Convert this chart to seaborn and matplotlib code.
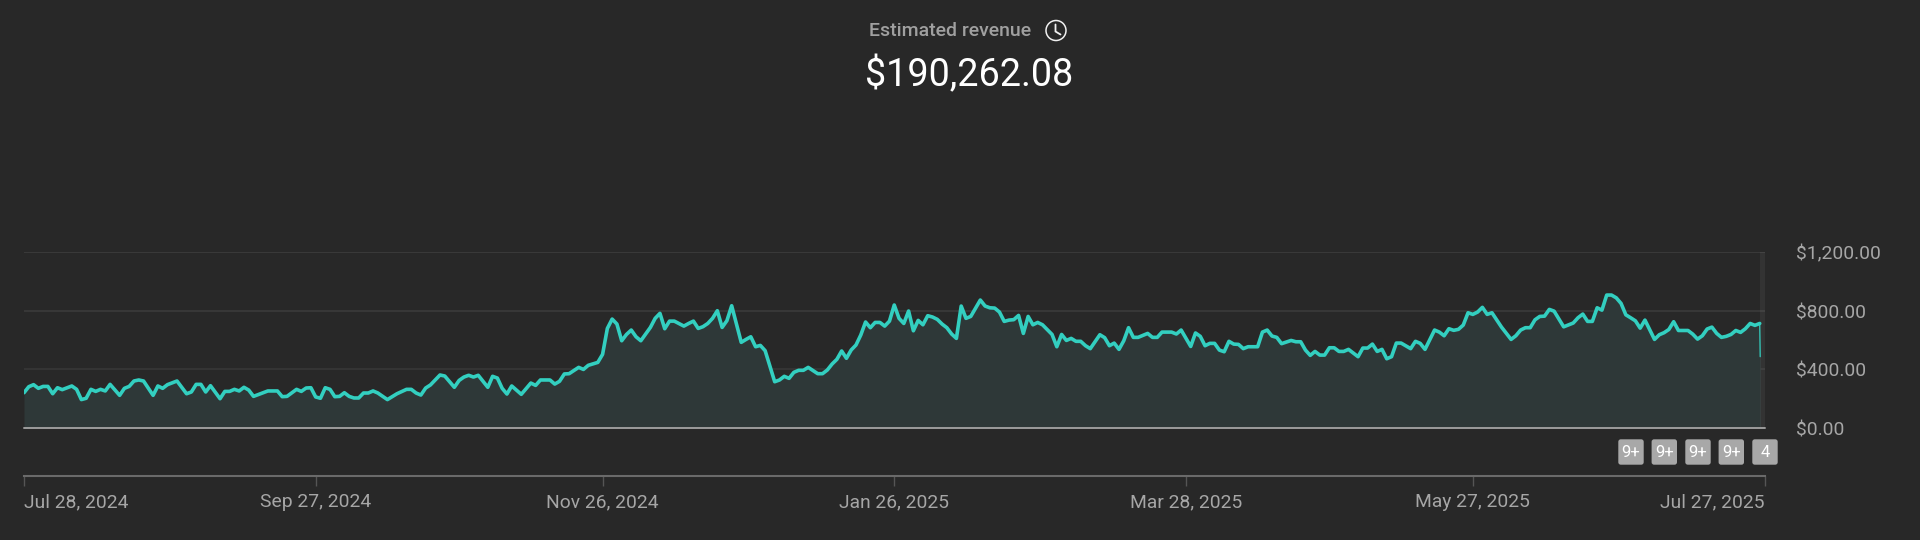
import matplotlib
matplotlib.use("Agg")
import matplotlib.pyplot as plt
from matplotlib.patches import Circle, FancyBboxPatch
from matplotlib.transforms import ScaledTranslation
import seaborn as sns

# Days since Jul 28, 2024 and daily estimated revenue in dollars
days = [0,1,2,3,4,5,6,7,8,10,11,12,13,14,15,16,17,18,20,21,22,23,24,25,27,28,29,30,32,34,35,36,37,38,39,41,42,43,44,45,46,47,48,51,
        53,54,55,57,58,59,60,61,62,63,64,65,66,67,68,69,70,71,72,73,74,76,78,80,81,82,83,84,85,87,88,90,91,92,93,94,95,97,98,99,100,101,102,
        104,106,107,108,110,111,112,113,114,116,117,118,120,121,122,123,124,125,126,127,128,129,131,132,133,134,135,136,138,139,140,141,142,143,144,145,146,147,148,150,151,152,153,154,155,
        157,158,159,160,161,162,163,164,166,167,168,169,170,171,172,173,174,175,176,177,178,179,180,181,182,183,184,185,186,187,188,189,190,191,192,193,194,195,196,197,198,200,201,202,203,204,205,206,207,208,
        209,210,211,212,213,215,216,217,218,219,220,221,222,223,225,226,227,228,229,230,231,232,233,235,236,237,238,240,241,242,244,245,246,247,248,249,250,251,252,253,254,255,256,258,259,260,
        261,262,263,265,266,267,268,269,270,271,272,273,274,275,276,277,279,280,281,282,283,284,285,286,287,288,290,291,292,293,295,296,297,298,299,300,301,302,303,304,305,306,307,309,311,312,
        313,314,315,316,317,318,319,320,322,324,325,326,327,328,329,330,331,332,333,334,335,336,337,338,339,341,342,343,344,345,346,347,348,349,350,351,352,353,354,355,356,357,358,359,360,361,362,363,363.1]
revenue = [241,282,296,271,284,284,234,275,262,287,264,194,203,264,250,264,253,298,223,271,284,321,328,321,223,287,271,296,321,234,246,298,298,246,289,200,250,250,264,253,278,259,216,253,
           253,214,216,264,250,273,275,212,203,275,264,214,216,241,216,205,205,239,239,253,239,194,234,264,264,239,225,273,294,362,355,278,325,348,360,348,360,278,353,341,271,232,287,
           230,307,291,328,328,300,319,369,371,414,400,428,448,503,680,744,710,596,639,669,623,596,687,749,783,678,730,730,696,714,730,680,692,714,749,801,687,733,835,585,605,623,555,564,528,
           316,328,353,339,380,394,394,414,371,371,396,437,469,526,476,533,567,635,724,685,721,721,696,730,840,749,714,799,664,735,705,767,758,742,710,685,642,612,833,749,762,874,833,821,819,792,728,737,740,769,
           646,762,705,721,705,639,555,639,598,612,592,592,562,542,637,617,562,580,537,596,685,619,619,646,619,619,655,655,642,669,557,649,626,562,578,578,532,521,592,573,571,542,555,555,655,669,
           628,619,576,598,589,589,532,496,523,498,498,548,548,523,523,537,487,546,546,573,523,537,473,487,580,580,542,592,578,537,669,655,630,678,667,674,703,787,776,792,824,776,787,689,605,630,
           669,685,685,739,762,764,810,798,691,717,753,778,728,728,821,805,908,908,889,851,773,753,732,682,737,605,637,651,673,726,666,666,666,641,607,630,676,689,646,619,626,639,666,653,678,714,701,714,487]

tick_days = [0, 61, 121, 182, 243, 303, 364]
tick_labels = ["Jul 28, 2024", "Sep 27, 2024", "Nov 26, 2024", "Jan 26, 2025",
               "Mar 28, 2025", "May 27, 2025", "Jul 27, 2025"]
y_ticks = [0, 400, 800, 1200]
y_labels = ["$0.00", "$400.00", "$800.00", "$1,200.00"]
badge_labels = ["9+", "9+", "9+", "9+", "4"]

BG = "#282828"
TEAL = "#33cfc0"
MUTED = "#a6a6a6"

sns.set_theme(style="dark", rc={
    "figure.facecolor": BG, "axes.facecolor": BG, "savefig.facecolor": BG,
    "axes.grid": False, "axes.edgecolor": "#666666",
})
plt.rcParams["font.family"] = ["Roboto", "DejaVu Sans"]

W, H = 1920, 540
fig = plt.figure(figsize=(W / 100, H / 100), dpi=100)

left, right, top, bottom = 24, 1764.5, 252.3, 428
ax = fig.add_axes([left / W, 1 - bottom / H, (right - left) / W, (bottom - top) / H])

for v, c in zip(y_ticks[1:], ["#363636", "#393939", "#3b3b3b"]):
    ax.axhline(v, color=c, lw=1.3, zorder=1)

ax.fill_between(days, revenue, 0, color="#2e3838", lw=0, zorder=2)
ax.axvspan(363, 364, color="#ffffff", alpha=0.055, lw=0, zorder=3)
ax.axhline(y_ticks[0], color="#9c9c9c", lw=1.4, zorder=4, clip_on=False)

# The partial last day is a thin drop; the full days carry the heavy stroke
sns.lineplot(x=days[:-1], y=revenue[:-1], estimator=None, sort=False, color=TEAL, lw=2.6,
             ax=ax, zorder=5)
ax.lines[-1].set_solid_joinstyle("round")
sns.lineplot(x=days[-2:], y=revenue[-2:], estimator=None, sort=False, color=TEAL, lw=0.9,
             ax=ax, zorder=5)

ax.set_xlim(0, 364)
ax.set_ylim(0, 1200)
ax.set_xlabel("")
ax.set_ylabel("")

for name in ("top", "left", "right"):
    ax.spines[name].set_visible(False)
ax.spines["bottom"].set_position(("outward", 48 * 0.72))
ax.spines["bottom"].set_color("#6a6a6a")
ax.spines["bottom"].set_linewidth(1.5)

ax.set_xticks(tick_days, tick_labels)
ax.tick_params(axis="x", bottom=True, length=7.2, width=1, color="#555555",
               labelcolor=MUTED, labelsize=13.9, pad=5)
for lbl, ha in zip(ax.get_xticklabels(), ["left"] + ["center"] * 5 + ["right"]):
    lbl.set_ha(ha)

ax.yaxis.tick_right()
ax.set_yticks(y_ticks, y_labels)
ax.tick_params(axis="y", right=False, length=0, pad=22.5, labelcolor=MUTED, labelsize=13.9)
nudge = ScaledTranslation(0, -2.4 / 100, fig.dpi_scale_trans)
for lbl in ax.get_yticklabels():
    lbl.set_va("center")
    lbl.set_transform(lbl.get_transform() + nudge)

# Header, clock icon and annotation badges sit on a pixel-scaled overlay
ov = fig.add_axes([0, 0, 1, 1])
ov.set_xlim(0, W)
ov.set_ylim(H, 0)
ov.axis("off")
ov.patch.set_alpha(0)

ov.text(950, 31, "Estimated revenue", color="#a0a0a0", fontsize=14, fontweight="medium",
        ha="center", va="center")
ov.text(969, 75.5, "$190,262.08", color="#ffffff", fontsize=27.2, ha="center", va="center")

ov.add_patch(Circle((1056, 30.5), 10, fill=False, ec="#f0f0f0", lw=1.1))
ov.plot([1055.5, 1055.5, 1060.5], [24.5, 31.5, 34.5], color="#f0f0f0", lw=1.3,
        solid_joinstyle="miter")

for cx, text in zip([1631, 1664.3, 1698, 1731.3, 1765], badge_labels):
    ov.add_patch(FancyBboxPatch((cx - 10.7, 441.3), 21.4, 21.4,
                                boxstyle="round,pad=2,rounding_size=2.5",
                                fc="#a8a8a8", ec="none"))
    ov.text(cx, 452.3, text, color="#ffffff", fontsize=12, ha="center", va="center")

fig.savefig("out.png", dpi=100)
